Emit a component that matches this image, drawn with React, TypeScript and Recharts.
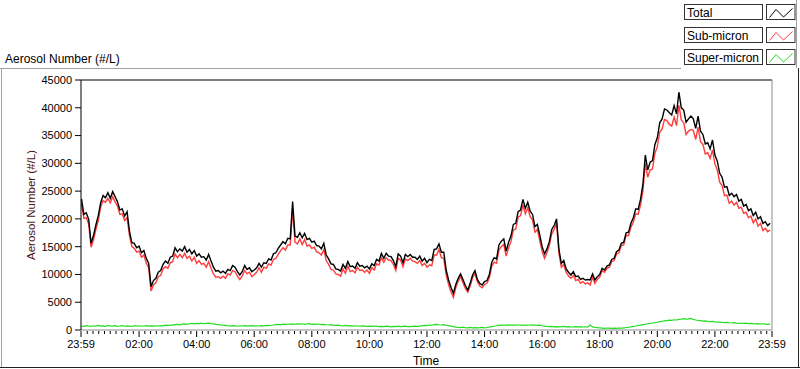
import React from 'react';
import { LineChart, Line, XAxis, YAxis, ReferenceLine } from 'recharts';

const FONT = '"Liberation Sans", Arial, sans-serif';

// Minutes after midnight, one sample every 5 minutes
const MINUTES: number[] = Array.from({ length: 288 }, (_, i) => i * 5);

const TOTAL: number[] = [
  23600, 20800, 21100, 19900, 15600, 17000, 18900, 20600, 22900, 24200, 23800, 24700, 23700, 24900, 24000, 23100, 21600, 21800, 20500, 21300, 17800, 15700, 15600, 14800, 15100, 13900, 14300, 12900, 12000, 7800,
  8900, 9300, 10400, 10700, 11800, 12400, 12000, 13100, 13300, 14800, 14100, 14600, 14200, 15000, 14000, 14500, 13700, 14300, 13300, 13700, 13100, 13200, 12600, 13600, 12400, 11300, 10600, 10700, 10300, 10600,
  10200, 10900, 10700, 11600, 11300, 10500, 9900, 10500, 11600, 10900, 11200, 10500, 10800, 11200, 12000, 11300, 12100, 12000, 12800, 12600, 13700, 13900, 14700, 15300, 15900, 15500, 16500, 16400, 23100, 16900,
  16700, 17500, 16600, 17400, 16300, 16500, 15800, 16000, 15200, 15100, 14600, 15600, 13500, 12800, 11900, 11800, 11000, 10900, 10600, 11800, 11100, 12300, 11400, 11500, 11100, 12100, 11500, 11600, 11200, 11500,
  11000, 11900, 11600, 12700, 12400, 13800, 12900, 13800, 13300, 13200, 12500, 11400, 13700, 13300, 12100, 13600, 13200, 13600, 13100, 13100, 12700, 13300, 12400, 12900, 12100, 12700, 12500, 14500, 14600, 15500,
  14000, 14000, 10800, 9000, 7700, 6600, 8200, 9300, 10100, 9100, 8000, 7200, 8400, 9900, 10700, 9100, 8400, 8100, 8700, 8900, 10000, 12200, 13000, 12800, 15300, 16000, 16400, 14200, 15800, 16900,
  19000, 19200, 21300, 21600, 23500, 21900, 23000, 21400, 20800, 18600, 19000, 17100, 15000, 13700, 14600, 15900, 18100, 18800, 20000, 14500, 12000, 12500, 11000, 10400, 9900, 10500, 9600, 9700, 9100, 9300,
  9000, 9100, 9000, 10100, 9000, 9600, 10000, 11100, 10800, 11500, 11700, 12700, 12900, 14100, 14400, 15600, 15800, 17500, 17600, 19200, 20200, 21800, 21700, 23500, 26200, 31500, 28800, 30200, 30500, 33400,
  34600, 37300, 38000, 39800, 39600, 39100, 38700, 40400, 38900, 42800, 40000, 39600, 37400, 38000, 38500, 38000, 36300, 38500, 35800, 35200, 33500, 33700, 32600, 34200, 31500, 30400, 28200, 27500, 25700, 25800,
  24200, 24600, 24000, 24400, 23200, 23500, 22300, 22600, 21500, 21800, 20600, 21200, 20000, 20400, 19200, 19500, 18800, 19200,
];

const SUB_MICRON: number[] = [
  22800, 20100, 20200, 19100, 14900, 16200, 18100, 19700, 22100, 23300, 23000, 23700, 22900, 24000, 23100, 22300, 20800, 20900, 19700, 20300, 17000, 15000, 14700, 14000, 14200, 13100, 13500, 12000, 11200, 7000,
  8100, 8500, 9600, 9800, 11000, 11400, 11100, 12100, 12300, 13700, 13000, 13600, 13000, 13800, 12900, 13300, 12400, 13100, 12000, 12500, 11800, 12000, 11300, 12300, 11100, 10100, 9500, 9600, 9300, 9700,
  9300, 10100, 9900, 10700, 10500, 9700, 9100, 9700, 10700, 10100, 10400, 9600, 10000, 10400, 11200, 10400, 11300, 11100, 11900, 11700, 12700, 12900, 13600, 14300, 14800, 14400, 15300, 15300, 21800, 15800,
  15500, 16400, 15400, 16300, 15100, 15300, 14700, 14900, 14100, 13900, 13500, 14500, 12500, 11800, 10900, 10800, 10100, 10000, 9700, 11000, 10200, 11500, 10500, 10700, 10300, 11300, 10700, 10800, 10400, 10800,
  10200, 11200, 10800, 11900, 11700, 13000, 12200, 13000, 12600, 12500, 11800, 10700, 12900, 12600, 11400, 12800, 12500, 12900, 12400, 12300, 12000, 12500, 11600, 12000, 11300, 11700, 11600, 13500, 13500, 14500,
  13000, 12900, 9900, 8200, 6900, 5900, 7600, 8800, 9600, 8500, 7500, 6800, 7900, 9400, 10200, 8700, 7900, 7600, 8200, 8400, 9400, 11500, 12200, 12000, 14400, 15000, 15400, 13300, 14800, 15900,
  18000, 18200, 20300, 20600, 22500, 20900, 22000, 20400, 19800, 17600, 18100, 16100, 14100, 12900, 13900, 15200, 17300, 18100, 19300, 13800, 11300, 11800, 10400, 9700, 9300, 9800, 8900, 9100, 8400, 8700,
  8300, 8500, 8100, 9500, 8400, 9100, 9500, 10700, 10400, 11100, 11300, 12300, 12500, 13700, 13900, 15200, 15300, 17000, 17000, 18500, 19400, 20900, 20800, 22500, 25100, 30000, 27500, 28800, 29000, 31800,
  33000, 35600, 36200, 37900, 37700, 37000, 36700, 38300, 36800, 40500, 37800, 37300, 35200, 35800, 36100, 35900, 34300, 36500, 33900, 33400, 31700, 31900, 30900, 32400, 29900, 28800, 26600, 26000, 24200, 24300,
  22800, 23200, 22500, 23000, 21900, 22100, 21000, 21200, 20200, 20500, 19300, 20000, 18700, 19200, 17900, 18300, 17700, 18000,
];

const SUPER_MICRON: number[] = [
  700, 650, 780, 720, 640, 760, 700, 820, 690, 730, 650, 800, 740, 700, 780, 660, 720, 800, 680, 750, 710, 640, 790, 700, 760, 680, 720, 800, 700, 740,
  690, 760, 720, 800, 740, 860, 820, 900, 880, 960, 1000, 940, 1050, 1100, 1020, 1120, 1180, 1100, 1200, 1150, 1220, 1130, 1190, 1240, 1160, 1100, 1020, 980, 900, 860,
  820, 760, 700, 800, 740, 680, 760, 720, 800, 700, 750, 780, 690, 760, 720, 800, 740, 820, 780, 860, 900, 960, 1000, 940, 1050, 1000, 1080, 1020, 1100, 1040,
  1100, 1050, 1120, 1000, 1080, 1150, 1020, 1060, 1000, 1080, 980, 1020, 940, 900, 960, 880, 820, 860, 800, 760, 820, 740, 780, 700, 760, 720, 680, 740, 700, 660,
  700, 640, 680, 720, 620, 660, 600, 680, 640, 580, 660, 620, 700, 600, 640, 680, 620, 600, 660, 700, 640, 700, 760, 820, 780, 900, 860, 960, 1000, 940,
  900, 980, 860, 780, 700, 620, 520, 480, 440, 500, 420, 380, 460, 400, 440, 380, 420, 480, 400, 450, 520, 600, 680, 760, 820, 860, 900, 840, 920, 880,
  900, 860, 940, 880, 820, 900, 860, 940, 880, 900, 820, 880, 760, 700, 640, 600, 660, 580, 620, 560, 600, 640, 560, 600, 540, 580, 620, 560, 600, 540,
  580, 520, 900, 560, 480, 420, 380, 340, 300, 360, 320, 280, 340, 300, 360, 320, 380, 420, 500, 560, 640, 720, 820, 880, 960, 1040, 1120, 1200, 1260, 1340,
  1400, 1500, 1580, 1640, 1700, 1760, 1720, 1840, 1800, 1900, 1960, 2050, 1950, 2000, 2100, 1900, 1800, 1720, 1680, 1600, 1640, 1560, 1500, 1540, 1460, 1400, 1440, 1360, 1320, 1380,
  1300, 1260, 1320, 1240, 1200, 1260, 1180, 1220, 1160, 1200, 1140, 1100, 1160, 1080, 1120, 1060, 1000, 1040,
];

const SERIES_NAMES = ['Total', 'Sub-micron', 'Super-micron'];
const SERIES_COLORS = ['#000000', '#ff3c3c', '#22dd22'];

const Y_TICKS = [0, 5000, 10000, 15000, 20000, 25000, 30000, 35000, 40000, 45000];
const X_MAJOR_TICKS = [-1, 120, 240, 360, 480, 600, 720, 840, 960, 1080, 1200, 1320, 1439];
const X_TICK_LABELS = ['23:59', '02:00', '04:00', '06:00', '08:00', '10:00', '12:00', '14:00', '16:00', '18:00', '20:00', '22:00', '23:59'];
const X_MINOR_TICKS = Array.from({ length: 119 }, (_, i) => (i + 1) * 12).filter((v) => v % 120 !== 0);
const X_ALL_TICKS = [...X_MAJOR_TICKS, ...X_MINOR_TICKS].sort((a, b) => a - b);

const data = MINUTES.map((t, i) => ({
  t,
  total: TOTAL[i],
  sub: SUB_MICRON[i],
  sup: SUPER_MICRON[i],
}));

const XTick = (props: any) => {
  const { x, y, payload } = props;
  const idx = X_MAJOR_TICKS.indexOf(payload.value);
  const major = idx >= 0;
  return (
    <g>
      <line x1={x} y1={y + 1} x2={x} y2={y + (major ? 7 : 4)} stroke="#000" strokeWidth={1} />
      {major && (
        <text x={x} y={y + 18} textAnchor="middle" fontSize={11} fontFamily={FONT} fill="#000">
          {X_TICK_LABELS[idx]}
        </text>
      )}
    </g>
  );
};

export default function App() {
  const rowTops = [4.5, 27.5, 49.5];
  return (
    <div style={{ position: 'absolute', left: 0, top: 0, width: 800, height: 369, background: '#fff' }}>
      <LineChart
        width={800}
        height={369}
        data={data}
        margin={{ top: 80, right: 28, bottom: 0, left: 0 }}
      >
        <XAxis
          type="number"
          dataKey="t"
          domain={[-1, 1439]}
          ticks={X_ALL_TICKS}
          interval={0}
          tick={<XTick />}
          tickLine={false}
          tickSize={0}
          tickMargin={0}
          axisLine={{ stroke: '#8c8c8c' }}
          height={39}
          allowDataOverflow
        />
        <YAxis
          type="number"
          domain={[0, 45000]}
          ticks={Y_TICKS}
          interval={0}
          width={81}
          tickSize={6}
          tickMargin={3}
          tickLine={{ stroke: '#000' }}
          axisLine={{ stroke: '#000' }}
          tick={{ fill: '#000', fontSize: 11, fontFamily: FONT }}
          allowDataOverflow
        />
        <ReferenceLine y={45000} stroke="#000" />
        <ReferenceLine x={1439} stroke="#8c8c8c" />
        <Line type="linear" dataKey="sup" stroke={SERIES_COLORS[2]} strokeWidth={1.2} dot={false} isAnimationActive={false} />
        <Line type="linear" dataKey="sub" stroke={SERIES_COLORS[1]} strokeWidth={1.4} dot={false} isAnimationActive={false} />
        <Line type="linear" dataKey="total" stroke={SERIES_COLORS[0]} strokeWidth={1.4} dot={false} isAnimationActive={false} />
      </LineChart>
      <svg width={800} height={369} style={{ position: 'absolute', left: 0, top: 0, pointerEvents: 'none' }}>
        <line x1={0} y1={68.5} x2={681} y2={68.5} stroke="#a0a0a0" />
        <line x1={1.5} y1={68} x2={1.5} y2={368} stroke="#a0a0a0" />
        <line x1={0} y1={367.5} x2={800} y2={367.5} stroke="#222" />
        <line x1={798.5} y1={68} x2={798.5} y2={368} stroke="#222" />
        <line x1={796.5} y1={0} x2={796.5} y2={68} stroke="#a0a0a0" />
        <text x={5} y={63} fontSize={12} fontFamily={FONT} fill="#000">Aerosol Number (#/L)</text>
        <text transform="translate(35,205) rotate(-90)" textAnchor="middle" fontSize={11.5} fontFamily={FONT} fill="#4a1414">
          Aerosol Number (#/L)
        </text>
        <text x={426} y={365} textAnchor="middle" fontSize={12} fontFamily={FONT} fill="#000">Time</text>
        {SERIES_NAMES.map((name, i) => {
          const top = rowTops[i];
          return (
            <g key={name}>
              <rect x={684.5} y={top} width={78} height={15} fill="#fff" stroke="#333" />
              <text x={687} y={top + 12} fontSize={12} fontFamily={FONT} fill="#000">{name}</text>
              <rect x={766.5} y={top} width={28.5} height={15} fill="#fff" stroke="#333" />
              <polyline
                points={`${769.5},${top + 13} ${776},${top + 5} ${783.5},${top + 12.5} ${792.5},${top + 4}`}
                fill="none"
                stroke={SERIES_COLORS[i]}
                strokeWidth={1}
              />
            </g>
          );
        })}
      </svg>
    </div>
  );
}
